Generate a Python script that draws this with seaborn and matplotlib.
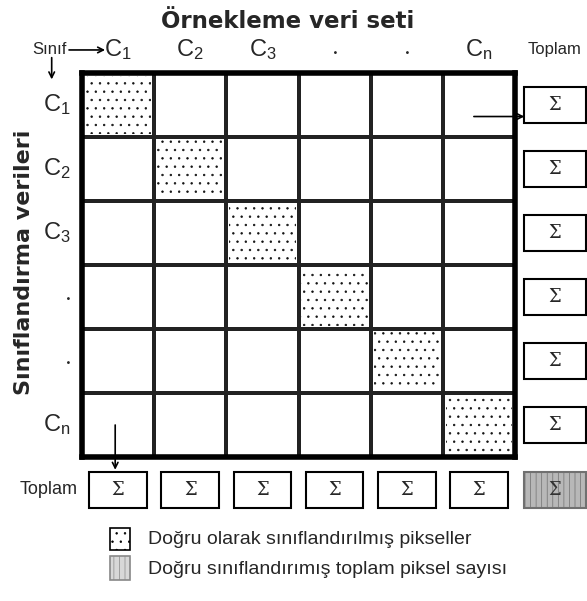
import numpy as np
import pandas as pd
import seaborn as sns
import matplotlib.pyplot as plt
from matplotlib.colors import ListedColormap
from matplotlib.patches import Rectangle

# Sınıflar ve doğru sınıflandırılmış (köşegen) hücreler
siniflar = ["C_1", "C_2", "C_3", "\\cdot", "\\cdot", "C_n"]
dogru = [1, 1, 1, 1, 1, 1]
etiketler = [r"$\mathregular{%s}$" % s for s in siniflar]
n = len(siniflar)

matris = pd.DataFrame(np.diag(dogru), index=etiketler, columns=etiketler)

sns.set_style("white")
plt.rcParams["font.family"] = ["Liberation Sans", "DejaVu Sans"]
plt.rcParams["hatch.linewidth"] = 0.5

W, H = 587, 601
fig = plt.figure(figsize=(W / 100, H / 100), dpi=100)


def px(x, y):
    # referans piksel -> figür oranı
    return x / W, 1 - y / H


ax = fig.add_axes([82 / W, 1 - 457 / H, 433 / W, 384 / H])
sns.heatmap(matris, ax=ax, cmap=ListedColormap(["white"]), cbar=False,
            linewidths=1.6, linecolor="#222222",
            xticklabels=etiketler, yticklabels=etiketler)

ax.xaxis.tick_top()
ax.tick_params(length=0, labelsize=17, pad=8)
ax.set_yticklabels(etiketler, rotation=0)
ax.set_xlabel("")
ax.set_ylabel("")
for s in ax.spines.values():
    s.set_visible(True)
    s.set_linewidth(4)
    s.set_color("black")

# köşegen: doğru sınıflandırılmış pikseller (noktalı)
for i in range(n):
    for j in range(n):
        if matris.iloc[i, j]:
            ax.add_patch(Rectangle((j + 0.04, i + 0.04), 0.92, 0.92,
                                   facecolor="white", edgecolor="#111111",
                                   hatch="..", linewidth=0))

# satır toplamları
for i in range(n):
    ax.add_patch(Rectangle((6.13, i + 0.22), 0.85, 0.56, facecolor="white",
                           edgecolor="black", lw=1.5, clip_on=False))
    ax.text(6.555, i + 0.5, "Σ", family="DejaVu Serif", fontsize=13,
            ha="center", va="center")

# sütun toplamları
for j in range(n):
    ax.add_patch(Rectangle((j + 0.1, 6.23), 0.8, 0.57, facecolor="white",
                           edgecolor="black", lw=1.5, clip_on=False))
    ax.text(j + 0.5, 6.515, "Σ", family="DejaVu Serif", fontsize=13,
            ha="center", va="center")

# genel toplam
ax.add_patch(Rectangle((6.13, 6.23), 0.85, 0.57, facecolor="#b8b8b8",
                       edgecolor="#707070", hatch="|||", lw=1.5, clip_on=False))
ax.text(6.555, 6.515, "Σ", family="DejaVu Serif", fontsize=13,
        ha="center", va="center", color="#333333")

ax.text(6.55, -0.36, "Toplam", fontsize=12, ha="center", va="center")
ax.text(-0.06, 6.515, "Toplam", fontsize=13, ha="right", va="center")
ax.text(-0.21, -0.36, "Sınıf", fontsize=12, ha="right", va="center")

# oklar
ok = dict(arrowstyle="->", color="black", lw=1.2, shrinkA=0, shrinkB=0)
ax.annotate("", xy=(0.32, -0.36), xytext=(-0.18, -0.36), arrowprops=ok,
            annotation_clip=False)
ax.annotate("", xy=(-0.42, 0.1), xytext=(-0.42, -0.24), arrowprops=ok,
            annotation_clip=False)
ax.annotate("", xy=(6.13, 0.68), xytext=(5.43, 0.68), arrowprops=ok,
            annotation_clip=False)
ax.annotate("", xy=(0.46, 6.2), xytext=(0.46, 5.5), arrowprops=ok,
            annotation_clip=False)

# başlıklar
fig.text(*px(288, 21), "Örnekleme veri seti", family="DejaVu Sans",
         fontweight="bold", fontsize=16.5, ha="center", va="center")
fig.text(*px(24, 262), "Sınıflandırma verileri", family="DejaVu Sans",
         fontweight="bold", fontsize=16, rotation=90,
         ha="center", va="center")

# açıklama
x0, y0 = px(110, 550)
fig.patches.append(Rectangle((x0, y0), 20 / W, 22 / H, transform=fig.transFigure,
                             facecolor="white", edgecolor="black", hatch="..",
                             lw=1.2, figure=fig))
x0, y0 = px(110, 580)
fig.patches.append(Rectangle((x0, y0), 20 / W, 24 / H, transform=fig.transFigure,
                             facecolor="#d8d8d8", edgecolor="#888888",
                             hatch="|||", lw=1.2, figure=fig))
fig.text(*px(148, 540), "Doğru olarak sınıflandırılmış pikseller",
         fontsize=14, ha="left", va="center")
fig.text(*px(148, 569), "Doğru sınıflandırımış toplam piksel sayısı",
         fontsize=14, ha="left", va="center")

fig.savefig("out.png", dpi=100)
